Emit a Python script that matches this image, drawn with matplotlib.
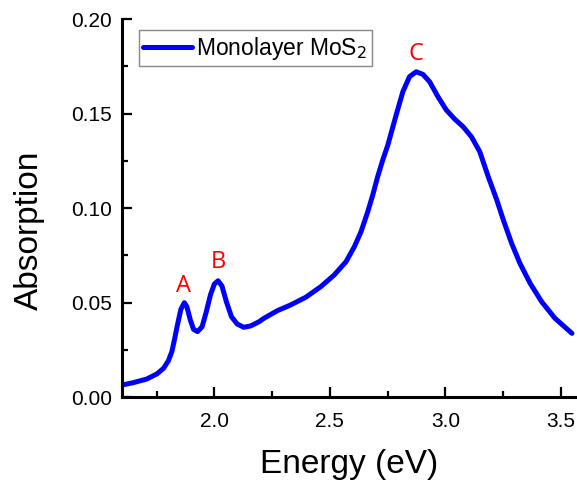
import matplotlib.pyplot as plt
from matplotlib.ticker import MultipleLocator

plt.rcParams['font.family'] = ['Liberation Sans', 'DejaVu Sans']

# absorption spectrum
energy = [1.599, 1.649, 1.707, 1.751, 1.780, 1.801, 1.816, 1.827, 1.840, 1.855,
          1.870, 1.881, 1.896, 1.910, 1.927, 1.947, 1.965, 1.983, 2.000, 2.016,
          2.033, 2.052, 2.074, 2.099, 2.127, 2.157, 2.193, 2.214, 2.273, 2.330,
          2.396, 2.461, 2.519, 2.570, 2.606, 2.635, 2.664, 2.686, 2.707, 2.729,
          2.751, 2.787, 2.816, 2.845, 2.874, 2.903, 2.932, 2.968, 3.004, 3.040,
          3.077, 3.113, 3.149, 3.186, 3.222, 3.251, 3.287, 3.323, 3.367, 3.417,
          3.475, 3.548]
absorb = [0.0063, 0.0076, 0.0095, 0.0122, 0.0152, 0.0192, 0.0240, 0.0302, 0.0381, 0.0464,
          0.0499, 0.0478, 0.0407, 0.0358, 0.0346, 0.0372, 0.0451, 0.0540, 0.0598, 0.0615,
          0.0587, 0.0504, 0.0425, 0.0386, 0.0369, 0.0376, 0.0398, 0.0416, 0.0457, 0.0487,
          0.0528, 0.0584, 0.0646, 0.0716, 0.0795, 0.0875, 0.0980, 0.1070, 0.1166, 0.1254,
          0.1333, 0.1492, 0.1615, 0.1695, 0.1721, 0.1707, 0.1668, 0.1589, 0.1519, 0.1471,
          0.1430, 0.1377, 0.1298, 0.1165, 0.1045, 0.0937, 0.0813, 0.0707, 0.0602, 0.0504,
          0.0416, 0.0337]

peak_names = ['A', 'B', 'C']
peak_x = [1.865, 2.017, 2.874]
peak_y = [0.0556, 0.0683, 0.1783]

fig = plt.figure(figsize=(5.77, 4.8), dpi=100)
ax = fig.add_axes([0.2114, 0.1729, 0.7886, 0.7875])

ax.plot(energy, absorb, color='#0000ff', lw=3.6, label='Monolayer MoS$_2$',
        solid_capstyle='round', solid_joinstyle='round')

for name, px, py in zip(peak_names, peak_x, peak_y):
    ax.text(px, py, name, color='red', fontsize=17, ha='center', va='baseline',
            family=['Open Sans', 'DejaVu Sans'])

ax.set_xlim(1.6, 3.57)
ax.set_ylim(0, 0.2)
ax.xaxis.set_major_locator(MultipleLocator(0.5))
ax.xaxis.set_minor_locator(MultipleLocator(0.25))
ax.yaxis.set_major_locator(MultipleLocator(0.05))
ax.yaxis.set_minor_locator(MultipleLocator(0.025))
ax.xaxis.set_major_formatter(plt.FormatStrFormatter('%.1f'))
ax.yaxis.set_major_formatter(plt.FormatStrFormatter('%.2f'))

for side in ['top', 'right']:
    ax.spines[side].set_visible(False)
for side in ['left', 'bottom']:
    ax.spines[side].set_linewidth(2.2)

ax.tick_params(which='both', direction='in', width=1.6, labelsize=15)
ax.tick_params(axis='x', pad=11)
ax.tick_params(axis='y', pad=7)
ax.tick_params(which='major', length=7.5)
ax.tick_params(which='minor', length=4.5)

ax.set_xlabel('Energy (eV)', fontsize=24, labelpad=13)
ax.set_ylabel('Absorption', fontsize=24)
ax.yaxis.set_label_coords(-0.17, 0.442)

leg = ax.legend(loc='upper left', bbox_to_anchor=(0.037, 0.971), fontsize=16.5,
                fancybox=False, framealpha=1, edgecolor='#888888',
                handlelength=2.1, handletextpad=0.2, borderpad=0.2,
                borderaxespad=0)
leg.get_frame().set_linewidth(1.0)

fig.savefig('out.png', dpi=100)
